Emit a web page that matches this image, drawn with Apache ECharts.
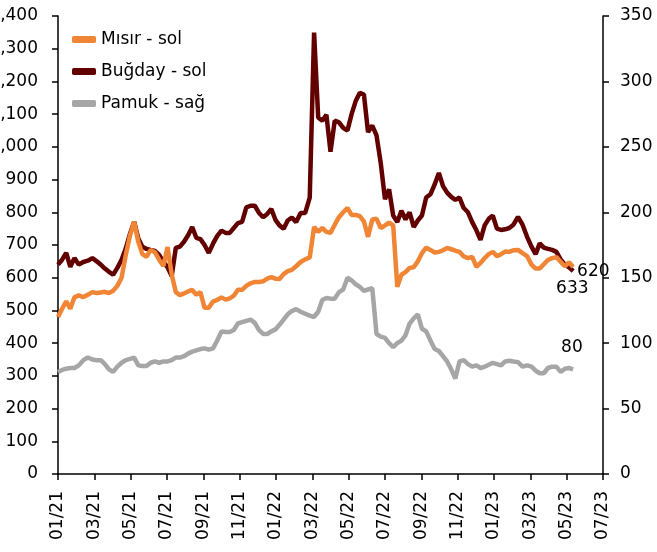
<!DOCTYPE html>
<html>
<head>
<meta charset="utf-8">
<script src="https://cdn.jsdelivr.net/npm/echarts@6/dist/echarts.min.js"></script>
<style>
  html, body { margin: 0; padding: 0; background: #fff; }
  #mycontainer { width: 657px; height: 552px; }
</style>
</head>
<body>
<div id="mycontainer"></div>
<script>
// weekly observations, first week 2021-01-01
var startDate = '2021-01-01';

var misir = [
  480, 505, 528, 505, 540, 546, 541, 548, 556, 553, 555, 557, 553, 560, 575, 600,
  670, 730, 771, 710, 672, 664, 685, 678, 655, 636, 694, 610, 556, 547, 552, 558,
  563, 548, 556, 508, 508, 527, 532, 540, 533, 537, 545, 563, 563, 575, 583, 587,
  587, 589, 597, 602, 597, 596, 611, 620, 624, 635, 648, 656, 662, 755, 740, 752,
  740, 737, 762, 785, 800, 813, 792, 792, 788, 772, 725, 778, 780, 752, 760, 768,
  760, 572, 609, 617, 630, 632, 650, 675, 692, 685, 677, 679, 684, 691, 687, 683,
  679, 665, 660, 664, 633, 645, 660, 672, 679, 666, 672, 680, 679, 684, 685, 675,
  666, 640, 628, 628, 641, 654, 660, 663, 649, 635, 647, 633
];

var bugday = [
  640, 655, 676, 633, 660, 640, 648, 652, 660, 650, 640, 628, 618, 609, 630, 655,
  690, 735, 771, 720, 695, 688, 685, 682, 670, 648, 632, 605, 691, 695, 710, 730,
  755, 722, 718, 700, 676, 704, 728, 744, 737, 737, 752, 767, 771, 815, 820, 820,
  798, 785, 795, 810, 777, 760, 750, 775, 784, 770, 798, 798, 845, 1349, 1090, 1080,
  1098, 985, 1080, 1075, 1058, 1050, 1100, 1140, 1165, 1160, 1045, 1065, 1035, 950, 840, 870,
  790, 770, 805, 778, 800, 755, 775, 790, 845, 855, 885, 920, 880, 860, 847, 838,
  845, 813, 800, 770, 745, 716, 760, 780, 790, 750, 746, 748, 752, 762, 786, 762,
  725, 695, 672, 705, 692, 688, 685, 679, 656, 640, 632, 620
];

var pamuk = [
  78, 79.5, 80.5, 81, 81, 83, 87, 89, 87.5, 87, 87, 84, 80, 78, 82, 85,
  87, 88, 89, 83, 82.5, 82.5, 85, 86, 85, 86, 86, 87, 89, 89, 90, 92,
  93.5, 94.5, 95.5, 96, 95, 96, 102, 109, 108.5, 108.5, 110, 115, 116, 117, 118, 115.5,
  110, 107, 107, 109, 110.5, 114, 118, 122, 124.5, 126, 124, 122.5, 121, 120, 124, 133,
  134.5, 134, 134, 139, 141, 150, 148, 145, 143, 140, 141, 142, 107, 105, 104, 100,
  97, 100, 102, 106, 115, 119, 122, 111, 109, 102, 95.5, 94, 90, 86, 80, 73,
  86, 87, 84, 82, 83, 81, 82, 83.5, 85, 84, 83, 86, 86.5, 86, 85.5, 82,
  83, 82, 79, 77, 77, 81, 82, 82, 78, 80.5, 81, 80
];

var leftTicks = [0, 1400, 100];
var rightTicks = [0, 350, 50];
var monthTicks = [0, 30, 2]; // months since 01/21

var seriesNames = ['Mısır - sol', 'Buğday - sol', 'Pamuk - sağ'];
var endLabels = ['633', '620', '80'];

// date -> month position on x axis
function monthPos(d) {
  var y = d.getUTCFullYear(), m = d.getUTCMonth();
  var dim = new Date(Date.UTC(y, m + 1, 0)).getUTCDate();
  return (y - 2021) * 12 + m + (d.getUTCDate() - 1) / dim;
}
var t0 = new Date(startDate + 'T00:00:00Z').getTime();
function toPairs(vals) {
  return vals.map(function (v, i) {
    return [monthPos(new Date(t0 + i * 7 * 86400000)), v];
  });
}

var FONT = 'DejaVu Sans';
var dom = document.getElementById('mycontainer');
var chart = echarts.init(dom, null, { renderer: 'canvas' });

var axisStyle = {
  axisLine: { show: true, lineStyle: { color: '#000', width: 1.5 } },
  axisTick: { show: true, length: 6, lineStyle: { color: '#000', width: 1.5 } },
  splitLine: { show: false }
};

var option = {
  animation: false,
  textStyle: { fontFamily: FONT },
  grid: { left: 58, right: 54, top: 16, bottom: 78, containLabel: false, outerBoundsMode: 'none' },
  legend: {
    orient: 'vertical',
    left: 67,
    top: 26,
    itemWidth: 24,
    itemHeight: 7,
    itemGap: 15,
    icon: 'roundRect',
    textStyle: { fontFamily: FONT, fontSize: 17, color: '#000' },
    data: seriesNames
  },
  xAxis: Object.assign({
    type: 'value',
    min: monthTicks[0],
    max: monthTicks[1],
    interval: monthTicks[2],
    axisLabel: {
      rotate: 90,
      margin: 17,
      fontSize: 17,
      color: '#000',
      fontFamily: FONT,
      formatter: function (v) {
        var mm = (v % 12) + 1;
        var yy = 21 + Math.floor(v / 12);
        return (mm < 10 ? '0' : '') + mm + '/' + yy;
      }
    }
  }, axisStyle),
  yAxis: [
    Object.assign({
      type: 'value',
      position: 'left',
      min: leftTicks[0],
      max: leftTicks[1],
      interval: leftTicks[2],
      axisLabel: {
        fontSize: 17, color: '#000', fontFamily: FONT, margin: 20,
        formatter: function (v) { return v.toLocaleString('en-US'); }
      }
    }, axisStyle),
    Object.assign({
      type: 'value',
      position: 'right',
      min: rightTicks[0],
      max: rightTicks[1],
      interval: rightTicks[2],
      axisLabel: { fontSize: 17, color: '#000', fontFamily: FONT, margin: 17 }
    }, axisStyle)
  ],
  series: [
    {
      name: seriesNames[0],
      type: 'line',
      yAxisIndex: 0,
      z: 3,
      showSymbol: false,
      data: toPairs(misir),
      lineStyle: { color: '#EF8535', width: 4.5 },
      itemStyle: { color: '#EF8535' },
      endLabel: {
        show: true, formatter: endLabels[0], offset: [-25, 22],
        fontSize: 17, color: '#000', fontFamily: FONT
      }
    },
    {
      name: seriesNames[1],
      type: 'line',
      yAxisIndex: 0,
      z: 2,
      showSymbol: false,
      data: toPairs(bugday),
      lineStyle: { color: '#620000', width: 4.5 },
      itemStyle: { color: '#620000' },
      endLabel: {
        show: true, formatter: endLabels[1], offset: [-4, 0],
        fontSize: 17, color: '#000', fontFamily: FONT
      }
    },
    {
      name: seriesNames[2],
      type: 'line',
      yAxisIndex: 1,
      z: 1,
      showSymbol: false,
      data: toPairs(pamuk),
      lineStyle: { color: '#A6A6A6', width: 4.5 },
      itemStyle: { color: '#A6A6A6' },
      endLabel: {
        show: true, formatter: endLabels[2], offset: [-20, -22],
        fontSize: 17, color: '#000', fontFamily: FONT
      }
    }
  ]
};

chart.setOption(option);
</script>
</body>
</html>
